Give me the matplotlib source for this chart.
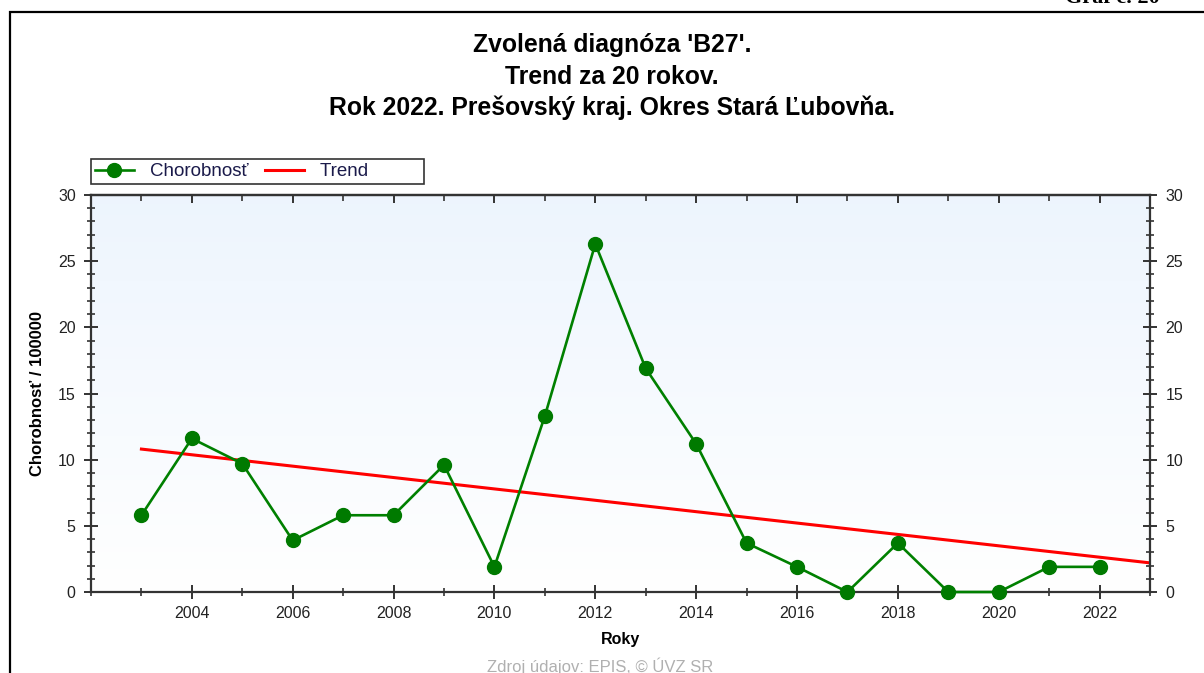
import numpy as np
import matplotlib
matplotlib.use('Agg')
import matplotlib.pyplot as plt
from matplotlib.patches import Rectangle
from matplotlib.ticker import MultipleLocator

# ============================
# Data
# ============================

years = [2003, 2004, 2005, 2006, 2007, 2008, 2009, 2010, 2011, 2012,
         2013, 2014, 2015, 2016, 2017, 2018, 2019, 2020, 2021, 2022]
chorobnost = [5.8, 11.6, 9.7, 3.9, 5.8, 5.8, 9.6, 1.9, 13.3, 26.3,
              16.9, 11.2, 3.7, 1.9, 0.0, 3.7, 0.0, 0.0, 1.9, 1.9]
trend_years = [2003, 2023]
trend_vals = [10.8, 2.2]

title_lines = ["Zvolená diagnóza 'B27'.",
               "Trend za 20 rokov.",
               "Rok 2022. Prešovský kraj. Okres Stará Ľubovňa."]

plt.rcParams['font.family'] = ['Liberation Sans', 'DejaVu Sans']

W, H = 1204, 673

# ============================
# Figure
# ============================

fig = plt.figure(figsize=(W / 100, H / 100), dpi=100)
ax = fig.add_axes([91 / W, 1 - 592 / H, (1150 - 91) / W, (592 - 195) / H])

# light blue gradient background
grad = np.linspace(1, 0, 256).reshape(-1, 1)
top = np.array([0.93, 0.96, 0.995])
bottom = np.array([1.0, 1.0, 1.0])
img = bottom + (top - bottom) * grad[..., None]
ax.imshow(img, extent=[2002, 2023, 0, 30], aspect='auto', origin='upper', zorder=0)

ax.plot(trend_years, trend_vals, color='#ff0000', lw=2.2, label='Trend', zorder=2)
ax.plot(years, chorobnost, color='#008000', lw=1.9, marker='o', ms=10,
        markerfacecolor='#007a00', markeredgecolor='#007a00',
        label='Chorobnosť', zorder=3, clip_on=False)

ax.set_xlim(2002, 2023)
ax.set_ylim(0, 30)
ax.set_xticks([2004 + 2 * i for i in range(10)])
ax.xaxis.set_minor_locator(MultipleLocator(1))
ax.yaxis.set_major_locator(MultipleLocator(5))
ax.yaxis.set_minor_locator(MultipleLocator(1))

for s in ax.spines.values():
    s.set_color('#333333')
    s.set_linewidth(1.6)

ax.tick_params(axis='both', which='major', direction='inout', length=10, width=1.4,
               color='#333333', labelsize=11.5, labelcolor='#222222')
ax.tick_params(axis='both', which='minor', direction='inout', length=6, width=1.2,
               color='#333333')
ax.tick_params(axis='y', which='both', right=True)
ax.tick_params(axis='y', labelright=True, pad=6)
ax.tick_params(axis='x', pad=5)

# top axis: inward ticks only
top_ax = ax.secondary_xaxis('top')
top_ax.set_xticks([2004 + 2 * i for i in range(10)])
top_ax.xaxis.set_minor_locator(MultipleLocator(1))
top_ax.tick_params(which='major', direction='in', length=6, width=1.4, color='#333333',
                   labeltop=False)
top_ax.tick_params(which='minor', direction='in', length=4, width=1.2, color='#333333')
top_ax.spines['top'].set_color('#333333')
top_ax.spines['top'].set_linewidth(1.6)

ax.set_xlabel('Roky', fontsize=11.5, fontweight='bold', labelpad=8)
ax.set_ylabel('Chorobnosť / 100000', fontsize=12, fontweight='bold')
ax.yaxis.set_label_coords(-(91 - 45) / (1150 - 91), 0.5)

handles, labels = ax.get_legend_handles_labels()
labels = ['Chorobnosť', 'Trend          ']
leg = ax.legend(handles[::-1], labels, loc='lower left', bbox_to_anchor=(0.0, 1 + 11 / 397),
                ncol=2, frameon=True, fancybox=False, fontsize=13.5, borderpad=0.2,
                handlelength=2.1, handletextpad=0.85, columnspacing=0.85,
                borderaxespad=0)
leg.get_frame().set_edgecolor('black')
leg.get_frame().set_linewidth(1.2)
for t in leg.get_texts():
    t.set_color('#1a1a4a')

# titles
for i, line in enumerate(title_lines):
    fig.text(612 / W, 1 - (45 + 31.5 * i) / H, line, ha='center', va='center',
             fontsize=17.8, fontweight='bold', color='black')

# outer frame
fig.patches.append(Rectangle((10 / W, -0.05), 1.2, 1 - 12 / H + 0.05,
                             transform=fig.transFigure, fill=False,
                             edgecolor='black', lw=1.6))

fig.text(1065 / W, 1 - 8 / H, 'Graf č. 20', ha='left', va='bottom',
         fontsize=16, fontweight='bold', family=['Liberation Serif', 'DejaVu Serif'])
fig.text(600 / W, 1 - 675 / H, 'Zdroj údajov: EPIS, © ÚVZ SR', ha='center',
         va='bottom', fontsize=12, color='#b0b0b0')

fig.savefig('out.png', dpi=100)
